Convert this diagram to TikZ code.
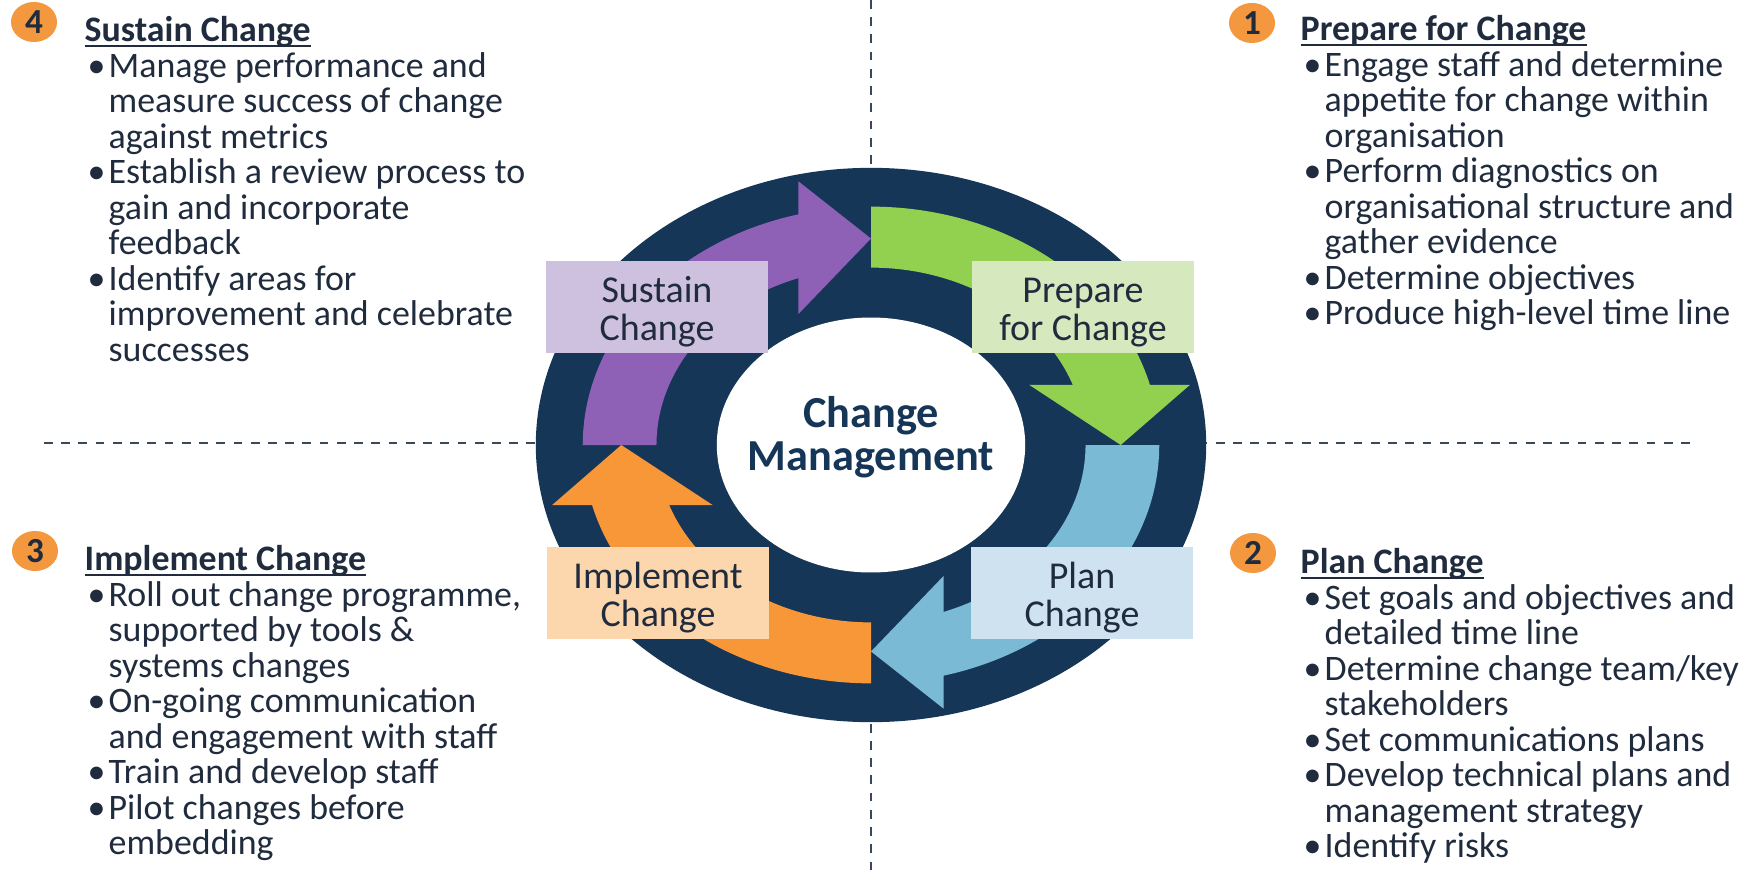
\documentclass[tikz,border=0pt]{standalone}
\usepackage{fontspec}
\setmainfont{Carlito}
\usetikzlibrary{shapes.geometric}

\definecolor{navy}{RGB}{22,54,88}
\definecolor{inktext}{RGB}{32,44,62}
\definecolor{dashgrey}{RGB}{58,72,92}
\definecolor{arrowgreen}{RGB}{146,208,80}
\definecolor{arrowblue}{RGB}{122,186,213}
\definecolor{arroworange}{RGB}{247,151,56}
\definecolor{arrowpurple}{RGB}{142,96,182}
\definecolor{boxgreen}{RGB}{214,232,190}
\definecolor{boxblue}{RGB}{206,227,239}
\definecolor{boxorange}{RGB}{252,214,172}
\definecolor{boxpurple}{RGB}{206,193,223}
\definecolor{badgeorange}{RGB}{243,152,62}

% curved arrow of the cycle, tail at angle #2, running clockwise
\newcommand{\cyclearrow}[2]{%
  \fill[#1] (#2:0.64) -- (#2:0.86)
    arc[start angle=#2, end angle={#2-75.4}, radius=0.86]
    -- ({#2-77.16}:0.976) -- ({#2-90}:0.745) -- ({#2-65.31}:0.5195)
    -- ({#2-70.18}:0.64)
    arc[start angle={#2-70.18}, end angle=#2, radius=0.64] -- cycle;}
\newcommand{\bul}{\makebox[0.24cm][l]{\hspace{0.03cm}\textbullet}}
\newcommand{\cont}{\hspace*{0.24cm}}
\newcommand{\headline}[1]{\sbox0{\textbf{#1}}\rule{0pt}{8pt}\rlap{\rule[-1.4pt]{\wd0}{0.55pt}}\usebox0}
\newcommand{\topline}{\rule{0pt}{10pt}}

\begin{document}
\begin{tikzpicture}[x=0.01cm, y=-0.01cm, every node/.style={text=inktext},
    guide/.style={dashgrey, line width=0.8pt, dash pattern=on 2.5pt off 2.4pt},
    stage/.style={minimum width=2.22cm, minimum height=0.91cm, inner sep=0pt,
      align=center, font=\fontsize{10.8}{10.7}\selectfont},
    badge/.style={ellipse, fill=badgeorange, minimum width=0.46cm,
      minimum height=0.40cm, inner sep=0pt, font=\bfseries\fontsize{10}{10}\selectfont},
    notes/.style={anchor=north west, inner sep=0pt, align=left,
      font=\fontsize{10.2}{10.1}\selectfont}]
  \useasboundingbox (0,0) rectangle (1739,879);
  \fill[white] (0,0) rectangle (1739,879);
  \draw[guide] (871,0) -- (871,879);
  \draw[guide] (44,443) -- (1697,443);

  \begin{scope}[shift={(871,445)}, x=3.35cm, y=2.77cm]
    \fill[navy] (0,0) circle (1);
    \cyclearrow{arrowgreen}{90}
    \cyclearrow{arrowblue}{0}
    \cyclearrow{arroworange}{-90}
    \cyclearrow{arrowpurple}{180}
    \fill[white] (0,0) circle (0.46);
  \end{scope}
  \node[align=center, text=navy, font=\bfseries\fontsize{12.6}{12.3}\selectfont] (hub) at (871,437) {Change\\Management};

  \node[stage, fill=boxpurple] (sustain) at (657,307) {\topline Sustain\\Change};
  \node[stage, fill=boxgreen] (prepare) at (1083,307) {\topline Prepare\\for Change};
  \node[stage, fill=boxorange] (implement) at (658,593) {\topline Implement\\Change};
  \node[stage, fill=boxblue] (plan) at (1082,593) {\topline Plan\\Change};

  \node[badge] (b4) at (34,22) {4};
  \node[notes] (q4) at (84,13) {\headline{Sustain Change}\\
    \bul Manage performance and\\
    \cont measure success of change\\
    \cont against metrics\\
    \bul Establish a review process to\\
    \cont gain and incorporate\\
    \cont feedback\\
    \bul Identify areas for\\
    \cont improvement and celebrate\\
    \cont successes};

  \node[badge] (b1) at (1252,23) {1};
  \node[notes] (q1) at (1300,12) {\headline{Prepare for Change}\\
    \bul Engage staff and determine\\
    \cont appetite for change within\\
    \cont organisation\\
    \bul Perform diagnostics on\\
    \cont organisational structure and\\
    \cont gather evidence\\
    \bul Determine objectives\\
    \bul Produce high-level time line};

  \node[badge] (b3) at (35,551) {3};
  \node[notes] (q3) at (84,542) {\headline{Implement Change}\\
    \bul Roll out change programme,\\
    \cont supported by tools \&\\
    \cont systems changes\\
    \bul On-going communication\\
    \cont and engagement with staff\\
    \bul Train and develop staff\\
    \bul Pilot changes before\\
    \cont embedding};

  \node[badge] (b2) at (1253,553) {2};
  \node[notes] (q2) at (1300,545) {\headline{Plan Change}\\
    \bul Set goals and objectives and\\
    \cont detailed time line\\
    \bul Determine change team/key\\
    \cont stakeholders\\
    \bul Set communications plans\\
    \bul Develop technical plans and\\
    \cont management strategy\\
    \bul Identify risks};
\end{tikzpicture}
\end{document}
